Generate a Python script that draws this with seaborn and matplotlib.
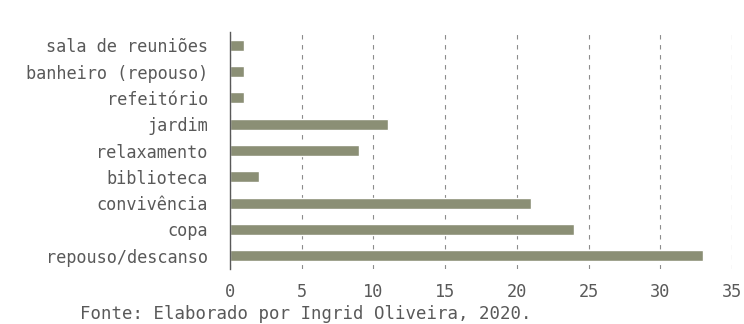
import matplotlib
matplotlib.use("Agg")
import pandas as pd
import matplotlib.pyplot as plt
import seaborn as sns

# Dados (de cima para baixo)
ambientes = ['sala de reuniões', 'banheiro (repouso)', 'refeitório', 'jardim',
             'relaxamento', 'biblioteca', 'convivência', 'copa', 'repouso/descanso']
quantidade = [1, 1, 1, 11, 9, 2, 21, 24, 33]
xticks = [0, 5, 10, 15, 20, 25, 30, 35]

sns.set_theme(style="white")
plt.rcParams['font.family'] = ['DejaVu Sans Mono', 'DejaVu Sans']

cor_texto = '#595959'
cor_barra = '#8b8f75'

df = pd.DataFrame({'ambiente': ambientes, 'quantidade': quantidade})

fig = plt.figure(figsize=(7.44, 3.24), dpi=100)
ax = fig.add_axes([230 / 744, 1 - 269 / 324, (732 - 230) / 744, (269 - 32) / 324])

sns.barplot(data=df, x='quantidade', y='ambiente', orient='h', color=cor_barra,
            saturation=1, width=0.42, ax=ax, order=ambientes)

ax.set_xlim(0, 35)
ax.set_xticks(xticks)
ax.set_xlabel('')
ax.set_ylabel('')
ax.xaxis.grid(True, linestyle=(0, (4, 5)), color='#8c8c8c', linewidth=0.8)
ax.set_axisbelow(True)
for lado in ['top', 'right', 'bottom']:
    ax.spines[lado].set_visible(False)
ax.spines['left'].set_color('#595959')
ax.spines['left'].set_linewidth(1)
ax.tick_params(axis='both', length=0, labelsize=12.2, colors=cor_texto)
ax.tick_params(axis='x', pad=10)
ax.tick_params(axis='y', pad=16)

fig.text(80 / 744, 1 - 314 / 324, 'Fonte: Elaborado por Ingrid Oliveira, 2020.',
         fontsize=12.5, color=cor_texto, va='center', ha='left')

fig.savefig('out.png', dpi=100)
